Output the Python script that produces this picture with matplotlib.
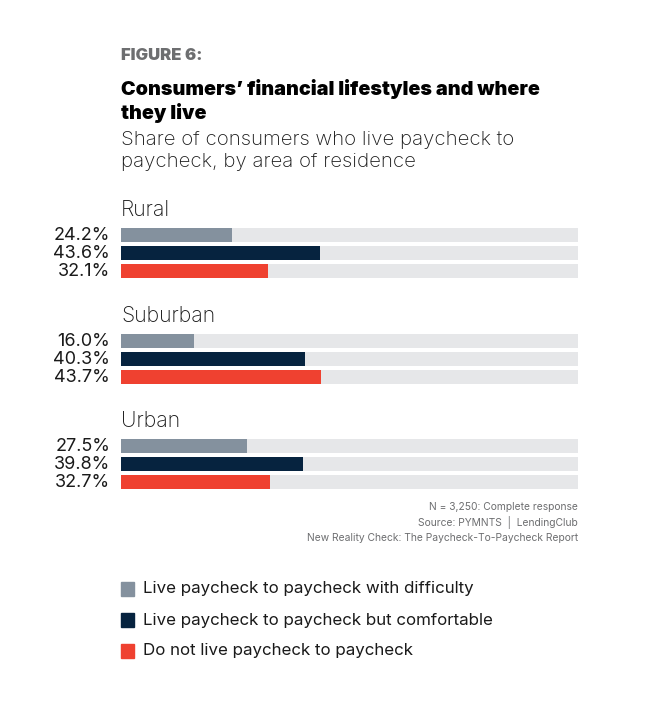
import matplotlib
matplotlib.use("Agg")
import matplotlib.pyplot as plt
from matplotlib.patches import Rectangle

areas = ["Rural", "Suburban", "Urban"]
series = [
    "Live paycheck to paycheck with difficulty",
    "Live paycheck to paycheck but comfortable",
    "Do not live paycheck to paycheck",
]
values = [
    [24.2, 43.6, 32.1],
    [16.0, 40.3, 43.7],
    [27.5, 39.8, 32.7],
]
colors = ["#84919e", "#06233f", "#ef4130"]
track_color = "#e6e7e9"

W, H = 655, 719
plt.rcParams["font.family"] = ["Inter", "DejaVu Sans"]

fig = plt.figure(figsize=(W / 100, H / 100), dpi=100)
fig.patch.set_facecolor("white")


def fx(px):
    return px / W


def fy(py):
    return 1 - py / H


# axes spans the bar tracks; 1 y-unit = 1 pixel
top, bottom = 195, 495
ax = fig.add_axes([fx(121), fy(bottom), fx(578) - fx(121), (bottom - top) / H])
ax.set_xlim(0, 100)
ax.set_ylim(bottom - top, 0)
ax.axis("off")

group_gap = 105.5
row_gap = 18
first_row = 40
bar_h = 14

for i, area in enumerate(areas):
    base = first_row + i * group_gap
    ax.text(0, base - 25, area, fontsize=15.3, va="center", ha="left",
            color="#1a1a1a", fontweight="light")
    for j, v in enumerate(values[i]):
        y = base + j * row_gap
        ax.barh(y, 100, height=bar_h, color=track_color, zorder=1)
        ax.barh(y, v, height=bar_h, color=colors[j], zorder=2)
        ax.text(-2.4, y + 0.5, f"{v:.1f}%", fontsize=13, va="center", ha="right",
                color="#1a1a1a")

# header
fig.text(fx(121), fy(56), "FIGURE 6:", fontsize=12, fontweight="black",
         color="#6d6e70", va="center")
fig.text(fx(121), fy(101), "Consumers\u2019 financial lifestyles and where\nthey live",
         fontsize=14.2, fontweight="black", color="#000000", va="center",
         linespacing=1.3)
fig.text(fx(121), fy(151), "Share of consumers who live paycheck to\npaycheck, by area of residence",
         fontsize=14.7, fontweight="light", color="#1a1a1a", va="center",
         linespacing=1.32)

# footnote
notes = [
    "N = 3,250: Complete response",
    "Source: PYMNTS  |  LendingClub",
    "New Reality Check: The Paycheck-To-Paycheck Report",
]
for k, n in enumerate(notes):
    fig.text(fx(578), fy(507 + k * 15.5), n, fontsize=7.4, ha="right",
             va="center", color="#6d6e70")

# legend
for k, (label, c) in enumerate(zip(series, colors)):
    yc = 589 + k * 31
    fig.patches.append(Rectangle((fx(121), fy(yc + 7)), 13 / W, 14 / H,
                                 transform=fig.transFigure, color=c))
    fig.text(fx(143), fy(yc), label, fontsize=12.2, va="center",
             color="#1a1a1a")

fig.savefig("out.png", dpi=100)
